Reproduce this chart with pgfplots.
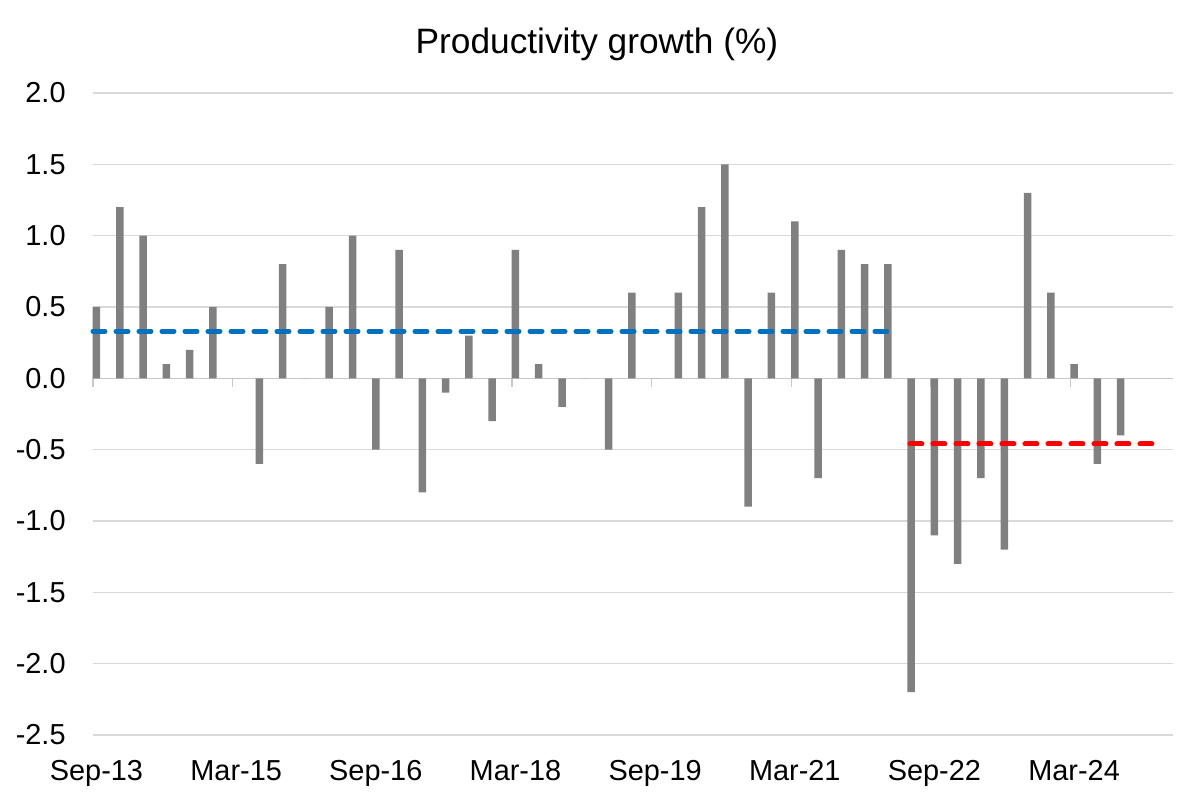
\documentclass[border=0pt]{standalone}
\usepackage{pgfplots}
\pgfplotsset{compat=1.18}
\usepackage{pgfplotstable}
\usepackage{fontspec}
\setmainfont{Liberation Sans}
\definecolor{bargray}{RGB}{128,128,128}
\definecolor{gridgray}{RGB}{217,217,217}
\definecolor{zerogray}{RGB}{200,200,200}
\definecolor{xlblue}{RGB}{0,112,192}
\definecolor{xlred}{RGB}{255,0,0}
\pgfplotstableread{
i v
0 0.5
1 1.2
2 1.0
3 0.1
4 0.2
5 0.5
6 0.0
7 -0.6
8 0.8
9 0.0
10 0.5
11 1.0
12 -0.5
13 0.9
14 -0.8
15 -0.1
16 0.3
17 -0.3
18 0.9
19 0.1
20 -0.2
21 0.0
22 -0.5
23 0.6
24 0.0
25 0.6
26 1.2
27 1.5
28 -0.9
29 0.6
30 1.1
31 -0.7
32 0.9
33 0.8
34 0.8
35 -2.2
36 -1.1
37 -1.3
38 -0.7
39 -1.2
40 1.3
41 0.6
42 0.1
43 -0.6
44 -0.4
}\proddata
\begin{document}
\begin{tikzpicture}
\useasboundingbox (-46.5bp,-33.5bp) rectangle (553.5bp,367.5bp);
\begin{axis}[
  scale only axis,
  width=540bp, height=321bp,
  xmin=-0.15, xmax=46.25,
  ymin=-2.5, ymax=2.0,
  axis line style={draw=none},
  ytick={-2.5,-2,-1.5,-1,-0.5,0,0.5,1,1.5,2},
  yticklabels={-2.5,-2.0,-1.5,-1.0,-0.5,0.0,0.5,1.0,1.5,2.0},
  xtick={0,6,12,18,24,30,36,42},
  xticklabels={Sep-13,Mar-15,Sep-16,Mar-18,Sep-19,Mar-21,Sep-22,Mar-24},
  major tick length=0pt,
  ymajorgrids,
  grid style={gridgray, line width=0.6bp},
  tick label style={font=\fontsize{14.5}{17}\selectfont, inner sep=0pt},
  yticklabel style={anchor=east, xshift=-13.5bp},
  xticklabel style={anchor=base, yshift=-22.5bp},
  title={Productivity growth (\%)},
  title style={font=\fontsize{17.7}{20}\selectfont, at={(0.5,1)}, anchor=base, xshift=-18bp, yshift=14bp, inner sep=0pt},
  clip=false,
]
\draw[zerogray, line width=0.7bp] (axis cs:-0.15,0) -- (axis cs:46.25,0);
\draw[zerogray, line width=0.7bp] (axis cs:-0.15,0) -- ([yshift=-4.5bp]axis cs:-0.15,0);
\draw[zerogray, line width=0.7bp] (axis cs:5.85,0) -- ([yshift=-4.5bp]axis cs:5.85,0);
\draw[zerogray, line width=0.7bp] (axis cs:11.85,0) -- ([yshift=-4.5bp]axis cs:11.85,0);
\draw[zerogray, line width=0.7bp] (axis cs:17.85,0) -- ([yshift=-4.5bp]axis cs:17.85,0);
\draw[zerogray, line width=0.7bp] (axis cs:23.85,0) -- ([yshift=-4.5bp]axis cs:23.85,0);
\draw[zerogray, line width=0.7bp] (axis cs:29.85,0) -- ([yshift=-4.5bp]axis cs:29.85,0);
\draw[zerogray, line width=0.7bp] (axis cs:35.85,0) -- ([yshift=-4.5bp]axis cs:35.85,0);
\draw[zerogray, line width=0.7bp] (axis cs:41.85,0) -- ([yshift=-4.5bp]axis cs:41.85,0);
\addplot[ybar, bar width=3.75bp, bar shift=0pt, fill=bargray, draw=none] table[x=i, y=v] {\proddata};
\addplot[xlblue, line width=2.5bp, line cap=round, dash pattern=on 6bp off 5.5bp] coordinates {(-0.15,0.33) (33.95,0.33)};
\addplot[xlred, line width=2.5bp, line cap=round, dash pattern=on 6bp off 5.5bp] coordinates {(34.95,-0.46) (45.8,-0.46)};
\end{axis}
\end{tikzpicture}
\end{document}
